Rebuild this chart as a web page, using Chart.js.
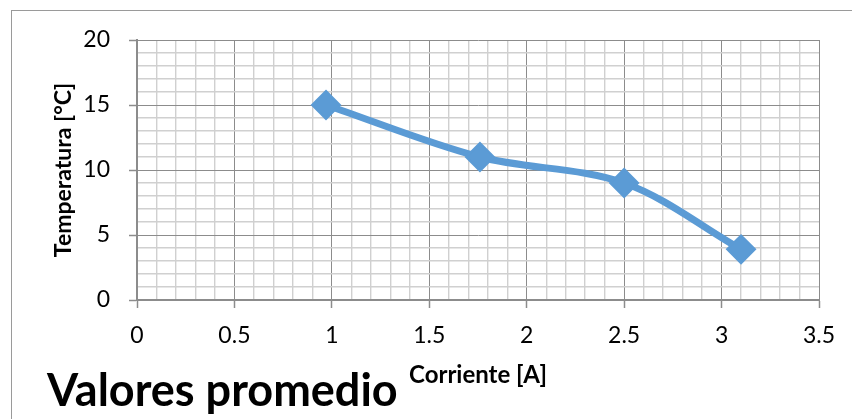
<!DOCTYPE html>
<html>
<head>
<meta charset="utf-8">
<script src="https://cdn.jsdelivr.net/npm/chart.js@4"></script>
<style>
  html, body { margin: 0; padding: 0; background: #ffffff; }
  #wrap { position: relative; width: 852px; height: 419px; overflow: hidden; }
  #frame { position: absolute; left: 11px; top: 10px; width: 900px; height: 500px;
           border-left: 1px solid #9a9a9a; border-top: 1px solid #9a9a9a; }
  canvas { position: absolute; left: 0; top: 0; }
</style>
</head>
<body>
<div id="wrap">
  <div id="frame"></div>
  <canvas id="c" width="852" height="419"></canvas>
</div>
<script>
// Data
const corriente = [0.97, 1.76, 2.5, 3.1];        // x values [A]
const temperatura = [15, 11, 9, 3.9];             // y values [°C]
const xTickLabels = ['0', '0.5', '1', '1.5', '2', '2.5', '3', '3.5'];
const yTickLabels = ['0', '5', '10', '15', '20'];
const chartTitle = 'Valores promedio';
const xAxisTitle = 'Corriente [A]';
const yAxisTitle = 'Temperatura [°C]';

const points = corriente.map((x, i) => ({ x: x, y: temperatura[i] }));

const FONT = 'Lato, "Open Sans", "Noto Sans", sans-serif';
const MAJOR = '#8c8c8c';
const MINOR = '#d0d0d0';
const BLUE = '#5B9BD5';

function isMajorX(v) { return Math.abs(v * 2 - Math.round(v * 2)) < 1e-6; }
function isMajorY(v) { return Math.abs(v / 5 - Math.round(v / 5)) < 1e-6; }
function fmt(v) { return String(Math.round(v * 10) / 10); }

new Chart(document.getElementById('c'), {
  type: 'scatter',
  data: {
    datasets: [{
      data: points,
      showLine: true,
      borderColor: BLUE,
      backgroundColor: BLUE,
      borderWidth: 7,
      tension: 0.33,
      borderCapStyle: 'round',
      borderJoinStyle: 'round',
      pointStyle: 'rectRot',
      pointRadius: 14,
      pointHoverRadius: 14,
      pointBorderWidth: 2,
      pointBorderColor: BLUE,
      pointBackgroundColor: BLUE
    }]
  },
  options: {
    responsive: false,
    animation: false,
    events: [],
    layout: { padding: { left: 47, right: 33, top: 40, bottom: 1 } },
    plugins: {
      legend: { display: false },
      tooltip: { enabled: false },
      title: {
        display: true,
        text: chartTitle,
        position: 'bottom',
        align: 'start',
        color: '#000000',
        font: { family: FONT, size: 45, weight: 'bold', lineHeight: 1.2 },
        padding: { top: -24, bottom: 0 }
      }
    },
    scales: {
      x: {
        type: 'linear',
        min: 0,
        max: 3.5,
        afterBuildTicks: (axis) => {
          const t = [];
          for (let i = 0; i <= 35; i++) t.push({ value: i / 10 });
          axis.ticks = t;
        },
        afterFit: (axis) => { axis.height = 88; },
        ticks: {
          autoSkip: false,
          maxRotation: 0,
          padding: 14,
          color: '#000000',
          font: { family: FONT, size: 23 },
          callback: (v) => {
            if (!isMajorX(v)) return '';
            const s = fmt(v);
            return xTickLabels.includes(s) ? s : '';
          }
        },
        grid: {
          color: (ctx) => (ctx.tick && isMajorX(ctx.tick.value)) ? MAJOR : MINOR,
          lineWidth: (ctx) => (ctx.tick && isMajorX(ctx.tick.value)) ? 1 : 1.4,
          tickColor: (ctx) => (ctx.tick && isMajorX(ctx.tick.value)) ? MAJOR : 'rgba(0,0,0,0)',
          tickLength: 8,
          tickWidth: 1.5
        },
        border: { color: MAJOR, width: 2 },
        title: {
          display: true,
          text: xAxisTitle,
          color: '#000000',
          font: { family: FONT, size: 24, weight: 'bold', lineHeight: 1.2 },
          padding: { top: 0, bottom: -2 }
        }
      },
      y: {
        type: 'linear',
        min: 0,
        max: 20,
        afterBuildTicks: (axis) => {
          const t = [];
          for (let i = 0; i <= 20; i++) t.push({ value: i });
          axis.ticks = t;
        },
        afterFit: (axis) => { axis.width = 90; },
        ticks: {
          autoSkip: false,
          padding: 19,
          color: '#000000',
          font: { family: FONT, size: 23 },
          callback: (v) => {
            if (!isMajorY(v)) return '';
            const s = fmt(v);
            return yTickLabels.includes(s) ? s : '';
          }
        },
        grid: {
          color: (ctx) => (ctx.tick && isMajorY(ctx.tick.value)) ? MAJOR : MINOR,
          lineWidth: (ctx) => (ctx.tick && isMajorY(ctx.tick.value)) ? 1 : 1.4,
          tickColor: (ctx) => (ctx.tick && isMajorY(ctx.tick.value)) ? MAJOR : 'rgba(0,0,0,0)',
          tickLength: 8,
          tickWidth: 1.5
        },
        border: { color: MAJOR, width: 2 },
        title: {
          display: true,
          text: yAxisTitle,
          color: '#000000',
          font: { family: FONT, size: 23, weight: 'bold', lineHeight: 1.2 },
          padding: { top: 3, bottom: 0 }
        }
      }
    }
  }
});
</script>
</body>
</html>
